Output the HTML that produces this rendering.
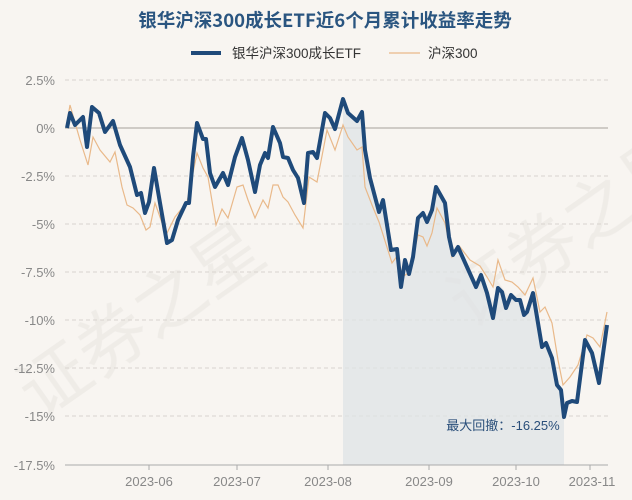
<!DOCTYPE html>
<html><head><meta charset="utf-8"><style>
html,body{margin:0;padding:0;background:#f8f5f1;}
svg{display:block;font-family:"Liberation Sans","Noto Sans CJK SC",sans-serif;}
</style></head><body>
<svg width="632" height="500" viewBox="0 0 632 500">
<rect width="632" height="500" fill="#f8f5f1"/>
<g fill="#e9e6e2" font-size="70" font-family="Noto Sans CJK SC,sans-serif" opacity="0.6">
<text transform="translate(40,420) rotate(-35)">证券之星</text>
<text transform="translate(470,330) rotate(-35)">证券之星</text>
</g>
<text x="325" y="27" text-anchor="middle" font-size="18.5" font-weight="bold" fill="#2a5580" font-family="Noto Sans CJK SC,sans-serif">银华沪深300成长ETF近6个月累计收益率走势</text>
<line x1="191" y1="53" x2="221" y2="53" stroke="#1f4a7a" stroke-width="4"/>
<text x="232" y="58" font-size="13.5" fill="#333">银华沪深300成长ETF</text>
<line x1="389" y1="53" x2="420" y2="53" stroke="#e9b98a" stroke-width="1.2"/>
<text x="428" y="58" font-size="13.5" fill="#333">沪深300</text>
<g stroke="#d8d4cf" stroke-dasharray="4,3" stroke-width="1">
<line x1="65" y1="80" x2="608" y2="80"/><line x1="65" y1="176" x2="608" y2="176"/>
<line x1="65" y1="224" x2="608" y2="224"/><line x1="65" y1="272" x2="608" y2="272"/>
<line x1="65" y1="320" x2="608" y2="320"/><line x1="65" y1="368" x2="608" y2="368"/>
<line x1="65" y1="416" x2="608" y2="416"/>
</g>
<line x1="65" y1="128" x2="608" y2="128" stroke="#cfcbc6" stroke-width="2"/>
<g font-size="13" fill="#888" text-anchor="end">
<text x="55" y="85">2.5%</text><text x="55" y="133">0%</text><text x="55" y="181">-2.5%</text>
<text x="55" y="229">-5%</text><text x="55" y="277">-7.5%</text><text x="55" y="325">-10%</text>
<text x="55" y="373">-12.5%</text><text x="55" y="421">-15%</text><text x="55" y="470">-17.5%</text>
</g>
<polygon fill="#dfe3e6" opacity="0.75" points="343,99 348,113 357,121 362,112 365,150 370,178 379,212 383,200 391,250 397,249 401,287 405,260 409,274 413,257 418,218 423,213 427,222 432,210 436,187 445,203 449,237 453,255 458,247 467,267 476,287 481,275 487,293 493,318 498,288 502,292 506,308 511,295 516,300 520,300 524,315 527,312 533,293 537,317 542,347 546,343 552,358 557,385 561,390 564,417 564,465 343,465"/>
<line x1="65" y1="465" x2="608" y2="465" stroke="#aaa" stroke-width="1"/>
<g stroke="#aaa"><line x1="149" y1="465" x2="149" y2="470"/><line x1="237" y1="465" x2="237" y2="470"/><line x1="328" y1="465" x2="328" y2="470"/><line x1="429" y1="465" x2="429" y2="470"/><line x1="516" y1="465" x2="516" y2="470"/><line x1="590" y1="465" x2="590" y2="470"/></g>
<g font-size="13" fill="#888" text-anchor="middle">
<text x="149" y="486">2023-06</text><text x="237" y="486">2023-07</text><text x="328" y="486">2023-08</text>
<text x="429" y="486">2023-09</text><text x="516" y="486">2023-10</text><text x="592" y="486">2023-11</text>
</g>
<polyline fill="none" stroke="#e9b98a" stroke-width="1.2" points="67,123 70,105 80,140 88,165 93,137 100,150 110,162 115,152 122,187 127,205 133,208 140,215 146,230 150,227 155,203 160,217 166,235 175,217 187,202 197,153 203,168 208,177 216,225 222,209 228,218 237,187 243,185 248,200 255,218 263,200 268,208 273,185 278,185 283,197 288,202 295,215 303,228 309,177 317,182 327,130 335,150 343,125 348,137 357,150 362,147 365,187 372,205 379,222 392,263 398,255 402,277 410,272 418,235 423,237 427,246 432,233 437,208 445,223 452,257 460,247 470,260 480,266 487,277 493,287 498,260 505,280 512,282 518,287 525,295 533,278 540,312 545,307 552,323 558,360 563,385 570,377 578,365 587,335 593,338 600,347 607,312"/>
<polyline fill="none" stroke="#1f4a7a" stroke-width="4" stroke-linejoin="round" points="67,128 70,113 75,125 83,117 87,147 92,107 99,113 105,132 113,121 120,145 130,167 137,195 141,193 145,213 149,202 154,168 160,203 167,243 172,240 178,220 186,203 189,203 193,157 197,123 203,139 206,139 210,173 215,187 223,173 228,185 235,157 242,138 248,160 255,192 260,165 265,153 268,158 273,127 280,143 283,157 288,158 293,170 298,178 304,203 308,153 313,152 317,158 325,113 330,118 335,129 343,99 348,113 357,121 362,112 365,150 370,178 379,212 383,200 391,250 397,249 401,287 405,260 409,274 413,257 418,218 423,213 427,222 432,210 436,187 445,203 449,237 453,255 458,247 467,267 476,287 481,275 487,293 493,318 498,288 502,292 506,308 511,295 516,300 520,300 524,315 527,312 533,293 537,317 542,347 546,343 552,358 557,385 561,390 564,417 567,403 572,401 577,402 585,340 592,353 599,383 607,325"/>
<text x="503" y="430" text-anchor="middle" font-size="13" fill="#2a4f7a">最大回撤：-16.25%</text>
</svg>
</body></html>
